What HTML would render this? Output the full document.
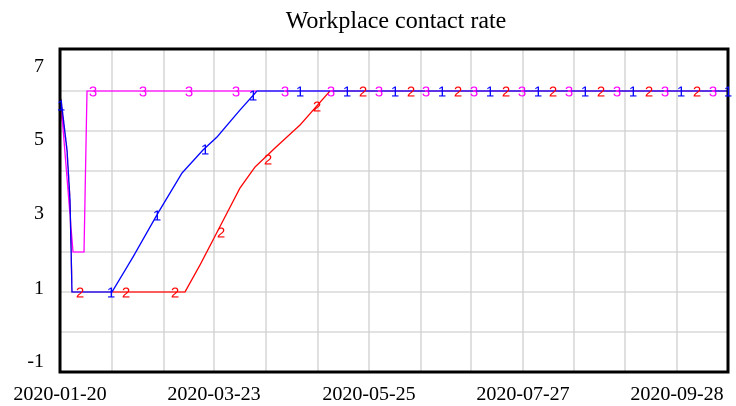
<!DOCTYPE html>
<html><head><meta charset="utf-8"><style>
html,body{margin:0;padding:0;background:#fff;}
svg{display:block;}
</style></head><body>
<svg width="736" height="406" xmlns="http://www.w3.org/2000/svg">
<text x="396" y="28" text-anchor="middle" font-family="Liberation Serif, serif" font-size="24">Workplace contact rate</text>
<g stroke="#d0d0d0" stroke-width="1.3">
<line x1="60" y1="91" x2="728" y2="91"/><line x1="60" y1="131" x2="728" y2="131"/>
<line x1="60" y1="171" x2="728" y2="171"/><line x1="60" y1="211" x2="728" y2="211"/>
<line x1="60" y1="252" x2="728" y2="252"/><line x1="60" y1="292" x2="728" y2="292"/>
<line x1="60" y1="332" x2="728" y2="332"/>
<line x1="112" y1="49" x2="112" y2="372"/><line x1="164" y1="49" x2="164" y2="372"/>
<line x1="214" y1="49" x2="214" y2="372"/><line x1="266" y1="49" x2="266" y2="372"/>
<line x1="318" y1="49" x2="318" y2="372"/><line x1="369" y1="49" x2="369" y2="372"/>
<line x1="421" y1="49" x2="421" y2="372"/><line x1="471" y1="49" x2="471" y2="372"/>
<line x1="523" y1="49" x2="523" y2="372"/><line x1="574" y1="49" x2="574" y2="372"/>
<line x1="625" y1="49" x2="625" y2="372"/><line x1="677" y1="49" x2="677" y2="372"/>
</g>
<g fill="none" stroke-width="1.3">
<polyline stroke="#ff00ff" points="60,91 73,252 84,252 87,91 728,91"/>
<polyline stroke="#ff0000" points="60,91 67,150 70,200 72,292 185,292 200,265 213,240 227,213 240,188 255,167 275,148 300,125 330,91 728,91"/>
<polyline stroke="#0000ff" points="60,91 67,150 70,200 72,292 112,292 133,257 158,213 182,173 203,150 217,137 240,110 257,91 728,91"/>
</g>
<rect x="60" y="49" width="668" height="323" fill="none" stroke="#000" stroke-width="3"/>
<g font-family="Liberation Serif, serif" font-size="20" text-anchor="end">
<text x="44" y="72">7</text><text x="44" y="145">5</text><text x="44" y="219">3</text>
<text x="44" y="294">1</text><text x="44" y="367">-1</text>
</g>
<g font-family="Liberation Serif, serif" font-size="20" text-anchor="middle">
<text x="60" y="400">2020-01-20</text><text x="214" y="400">2020-03-23</text>
<text x="369" y="400">2020-05-25</text><text x="523" y="400">2020-07-27</text>
<text x="677" y="400">2020-09-28</text>
</g>
<g font-family="Liberation Sans, sans-serif" font-size="15" text-anchor="middle" dominant-baseline="central">
<g fill="#ff00ff"><text x="93" y="92">3</text><text x="143" y="92">3</text><text x="189" y="92">3</text><text x="236" y="92">3</text><text x="285" y="92">3</text></g>
<g fill="#0000ff"><text x="61" y="106">1</text><text x="111" y="293">1</text><text x="157" y="216">1</text><text x="205" y="150">1</text><text x="253" y="96">1</text><text x="300" y="92">1</text></g>
<g fill="#ff0000"><text x="80" y="293">2</text><text x="126" y="293">2</text><text x="175" y="293">2</text><text x="221" y="233">2</text><text x="268" y="160">2</text><text x="317" y="107">2</text></g>
<text x="331" y="92" fill="#ff00ff">3</text><text x="347" y="92" fill="#0000ff">1</text><text x="363" y="92" fill="#ff0000">2</text>
<text x="379" y="92" fill="#ff00ff">3</text><text x="395" y="92" fill="#0000ff">1</text><text x="411" y="92" fill="#ff0000">2</text>
<text x="426" y="92" fill="#ff00ff">3</text><text x="442" y="92" fill="#0000ff">1</text><text x="458" y="92" fill="#ff0000">2</text>
<text x="474" y="92" fill="#ff00ff">3</text><text x="490" y="92" fill="#0000ff">1</text><text x="506" y="92" fill="#ff0000">2</text>
<text x="522" y="92" fill="#ff00ff">3</text><text x="538" y="92" fill="#0000ff">1</text><text x="553" y="92" fill="#ff0000">2</text>
<text x="569" y="92" fill="#ff00ff">3</text><text x="585" y="92" fill="#0000ff">1</text><text x="601" y="92" fill="#ff0000">2</text>
<text x="617" y="92" fill="#ff00ff">3</text><text x="633" y="92" fill="#0000ff">1</text><text x="649" y="92" fill="#ff0000">2</text>
<text x="665" y="92" fill="#ff00ff">3</text><text x="681" y="92" fill="#0000ff">1</text><text x="697" y="92" fill="#ff0000">2</text>
<text x="713" y="92" fill="#ff00ff">3</text><text x="728" y="92" fill="#0000ff">1</text>
</g>
</svg>
</body></html>
